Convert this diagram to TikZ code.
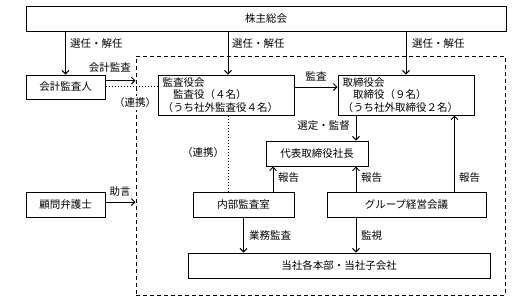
\documentclass[tikz,border=0pt]{standalone}
\usepackage{fontspec}
\setmainfont{Noto Sans CJK JP}
\usetikzlibrary{arrows.meta}
\begin{document}
\begin{tikzpicture}[x=1pt,y=-1pt,
  every node/.style={font=\fontsize{10.5}{12.5}\selectfont, inner sep=0pt},
  box/.style={draw, line width=1pt, rectangle},
  arr/.style={line width=1pt, -{Straight Barb[length=3.5pt,width=7pt]}},
  dot/.style={line width=1pt, dotted}]
\useasboundingbox (0,0) rectangle (531,303);
% dashed area
\node[draw, line width=1pt, dash pattern=on 4pt off 3pt, minimum width=369pt, minimum height=239pt] (dh) at (320.5,175.5) {};
% boxes
\node[box, minimum width=480pt, minimum height=25pt, fill=white] (sh) at (266,18.5) {株主総会};
\node[box, minimum width=79pt, minimum height=24pt] (kaikei) at (65.5,87) {会計監査人};
\node[box, minimum height=40pt, text width=127pt, inner xsep=4.5pt, align=left, fill=white] (kansa) at (226,95) {監査役会\\　監査役（４名）\\（うち社外監査役４名）};
\node[box, minimum height=40pt, text width=127pt, inner xsep=4.5pt, align=left, fill=white] (tori) at (406,95) {取締役会\\　取締役（９名）\\（うち社外取締役２名）};
\node[box, minimum width=102pt, minimum height=25pt] (ceo) at (317,153.5) {代表取締役社長};
\node[box, minimum width=101pt, minimum height=25pt] (naibu) at (243.5,204.5) {内部監査室};
\node[box, minimum width=159pt, minimum height=25pt] (group) at (406.5,204.5) {グループ経営会議};
\node[box, minimum width=302pt, minimum height=25pt] (toosha) at (339,265.5) {当社各本部・当社子会社};
\node[box, minimum width=79pt, minimum height=25pt] (komon) at (65.5,204.5) {顧問弁護士};
% helper coordinates
\coordinate (kaA) at ([yshift=6.5pt]kaikei.east);
\coordinate (kaD) at ([yshift=0.5pt]kaikei.east);
\coordinate (ksN) at ([xshift=2pt]kansa.north);
\coordinate (ksS) at ([xshift=2pt]kansa.south);
\coordinate (trS) at ([xshift=-50pt]tori.south);
\coordinate (nbN) at ([xshift=29.5pt]naibu.north);
\coordinate (grN) at ([xshift=48pt]group.north);
\coordinate (kmE) at ([yshift=2.5pt]komon.east);
% shareholders arrows
\draw[arr] (kaikei.north |- sh.south) -- (kaikei.north);
\node[anchor=west] (l1) at (70,44) {選任・解任};
\draw[arr] (ksN |- sh.south) -- (ksN);
\node[anchor=west] (l2) at (232,44) {選任・解任};
\draw[arr] (tori.north |- sh.south) -- (tori.north);
\node[anchor=west] (l3) at (412,44) {選任・解任};
% accounting auditor
\draw[arr] (kaA) -- (dh.west |- kaA);
\node[anchor=east] (l4) at (131,68) {会計監査};
\draw[dot] (kaD) -- (kansa.west |- kaD);
\node[fill=white, inner ysep=2pt] (l5) at (135,103) {（連携）};
% audit
\draw[arr] ([yshift=8pt]kansa.east) -- ([yshift=8pt]tori.west);
\node (l6) at (316,76) {監査};
% selection
\draw[arr] (trS) -- (ceo.north -| trS);
\node[anchor=east] (l7) at (350,126) {選定・監督};
% cooperation
\draw[dot] (ksS) -- (naibu.north -| ksS);
\node (l8) at (203,153) {（連携）};
% reports
\draw[arr] (nbN) -- (ceo.south -| nbN);
\node[anchor=west] (l9) at (278,178) {報告};
\draw[arr] (group.north -| trS) -- (ceo.south -| trS);
\node[anchor=west] (l10) at (361,178) {報告};
\draw[arr] (grN) -- (tori.south -| grN);
\node[anchor=west] (l11) at (459,178) {報告};
% downward
\draw[arr] (naibu.south) -- (toosha.north -| naibu.south);
\node[anchor=west] (l12) at (249,236) {業務監査};
\draw[arr] (group.south -| trS) -- (toosha.north -| trS);
\node[anchor=west] (l13) at (361,236) {監視};
% lawyer
\draw[arr] (kmE) -- (dh.west |- kmE);
\node (l14) at (120,192) {助言};
\end{tikzpicture}
\end{document}
